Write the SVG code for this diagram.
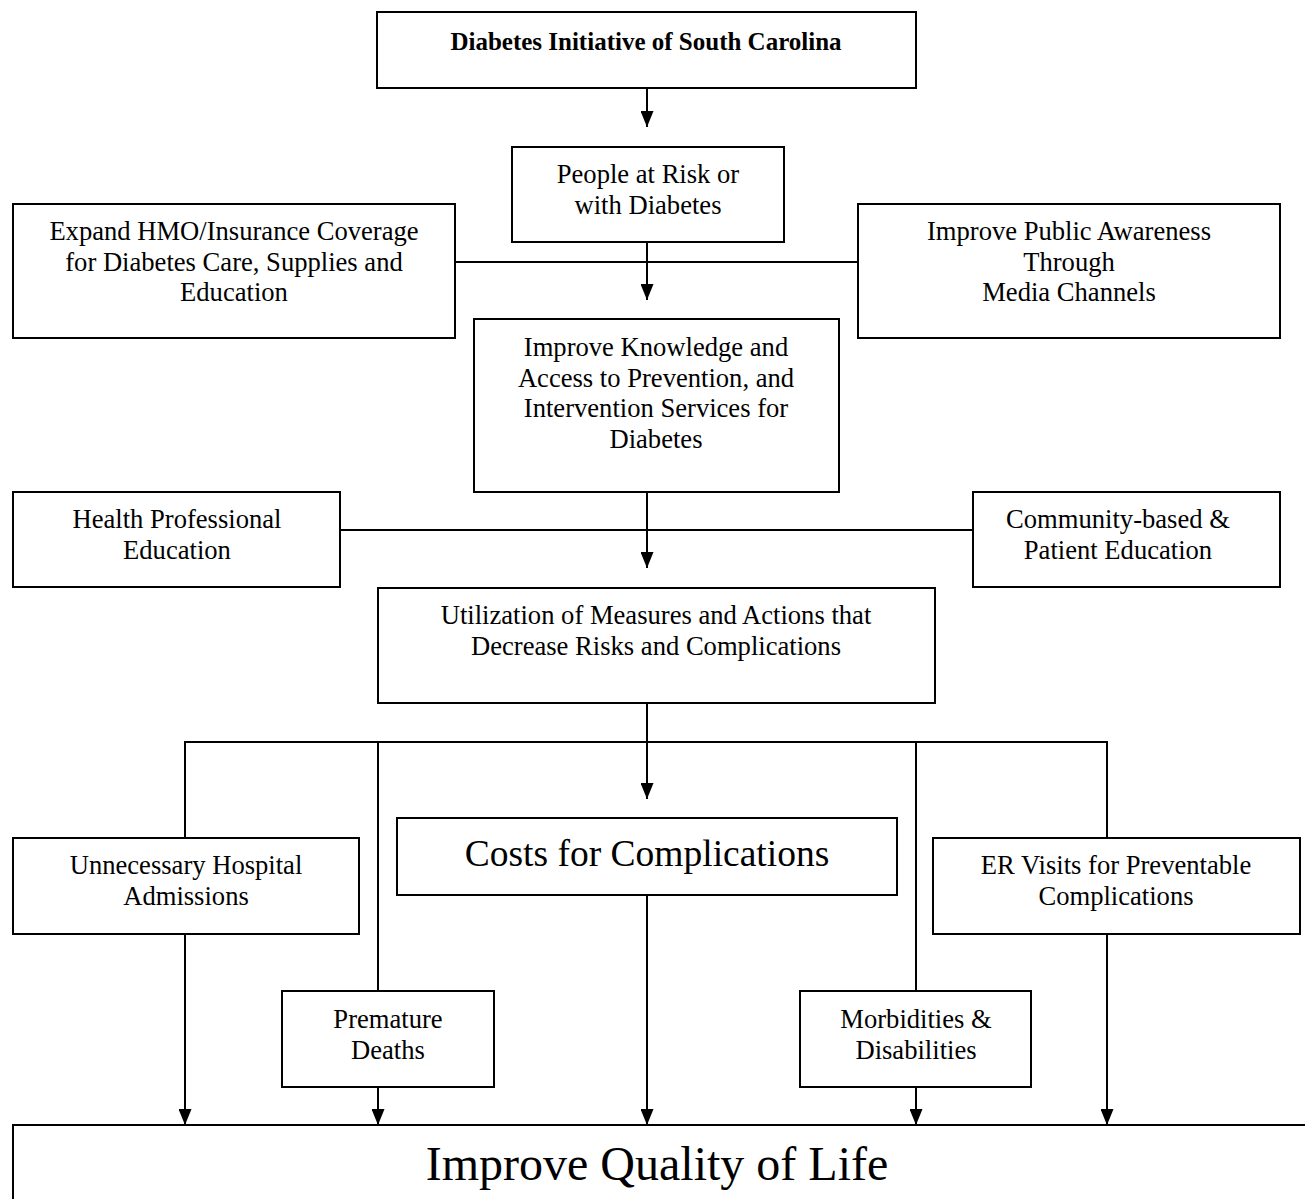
<svg xmlns="http://www.w3.org/2000/svg" width="1305" height="1199" viewBox="0 0 1305 1199">
<style>
rect{fill:#fff;stroke:#000;stroke-width:2}
text{font-family:"Liberation Serif","Times New Roman",serif;font-size:26.6px;fill:#000;text-anchor:middle}
.c line,.c path{stroke:#000;stroke-width:2;fill:none}
</style>
<defs>
<marker id="ah" viewBox="0 0 16 13" refX="16" refY="6.5" markerWidth="16" markerHeight="13" markerUnits="userSpaceOnUse" orient="auto">
<path d="M0,0 L16,6.5 L0,13 Z" fill="#000"/>
</marker>
</defs>
<rect x="0" y="0" width="1305" height="1199" style="stroke:none"/>
<g class="c" id="connectors">
<line x1="647" y1="88" x2="647" y2="127" marker-end="url(#ah)"/>
<line x1="455" y1="262" x2="858" y2="262"/>
<line x1="647" y1="242" x2="647" y2="300" marker-end="url(#ah)"/>
<line x1="340" y1="530" x2="973" y2="530"/>
<line x1="647" y1="492" x2="647" y2="568" marker-end="url(#ah)"/>
<line x1="647" y1="703" x2="647" y2="799" marker-end="url(#ah)"/>
<path d="M185,838 V742 H1107 V838"/>
<line x1="378" y1="742" x2="378" y2="991"/>
<line x1="916" y1="742" x2="916" y2="991"/>
<line x1="185" y1="934" x2="185" y2="1125" marker-end="url(#ah)"/>
<line x1="378" y1="1087" x2="378" y2="1125" marker-end="url(#ah)"/>
<line x1="647" y1="895" x2="647" y2="1125" marker-end="url(#ah)"/>
<line x1="916" y1="1087" x2="916" y2="1125" marker-end="url(#ah)"/>
<line x1="1107" y1="934" x2="1107" y2="1125" marker-end="url(#ah)"/>
</g>
<g id="n-dsc"><rect x="377" y="12" width="539" height="76"/><text x="646" y="50" style="font-weight:bold;font-size:25px">Diabetes Initiative of South Carolina</text></g>
<g id="n-people"><rect x="512" y="147" width="272" height="95"/><text x="648" y="183">People at Risk or</text><text x="648" y="214">with Diabetes</text></g>
<g id="n-expand"><rect x="13" y="204" width="442" height="134"/><text x="234" y="240">Expand HMO/Insurance Coverage</text><text x="234" y="271">for Diabetes Care, Supplies and</text><text x="234" y="301">Education</text></g>
<g id="n-public"><rect x="858" y="204" width="422" height="134"/><text x="1069" y="240">Improve Public Awareness</text><text x="1069" y="271">Through</text><text x="1069" y="301">Media Channels</text></g>
<g id="n-knowledge"><rect x="474" y="319" width="365" height="173"/><text x="656" y="356">Improve Knowledge and</text><text x="656" y="387">Access to Prevention, and</text><text x="656" y="417">Intervention Services for</text><text x="656" y="448">Diabetes</text></g>
<g id="n-hpe"><rect x="13" y="492" width="327" height="95"/><text x="177" y="528">Health Professional</text><text x="177" y="559">Education</text></g>
<g id="n-cpe"><rect x="973" y="492" width="307" height="95"/><text x="1118" y="528">Community-based &amp;</text><text x="1118" y="559">Patient Education</text></g>
<g id="n-util"><rect x="378" y="588" width="557" height="115"/><text x="656" y="624">Utilization of Measures and Actions that</text><text x="656" y="655">Decrease Risks and Complications</text></g>
<g id="n-costs"><rect x="397" y="818" width="500" height="77"/><text x="647" y="866" style="font-size:37.5px">Costs for Complications</text></g>
<g id="n-hosp"><rect x="13" y="838" width="346" height="96"/><text x="186" y="874">Unnecessary Hospital</text><text x="186" y="905">Admissions</text></g>
<g id="n-er"><rect x="933" y="838" width="367" height="96"/><text x="1116" y="874">ER Visits for Preventable</text><text x="1116" y="905">Complications</text></g>
<g id="n-deaths"><rect x="282" y="991" width="212" height="96"/><text x="388" y="1028">Premature</text><text x="388" y="1059">Deaths</text></g>
<g id="n-morb"><rect x="800" y="991" width="231" height="96"/><text x="916" y="1028">Morbidities &amp;</text><text x="916" y="1059">Disabilities</text></g>
<g id="n-qol"><rect x="13" y="1125" width="1300" height="100"/><text x="657" y="1180" style="font-size:48px">Improve Quality of Life</text></g>
</svg>
